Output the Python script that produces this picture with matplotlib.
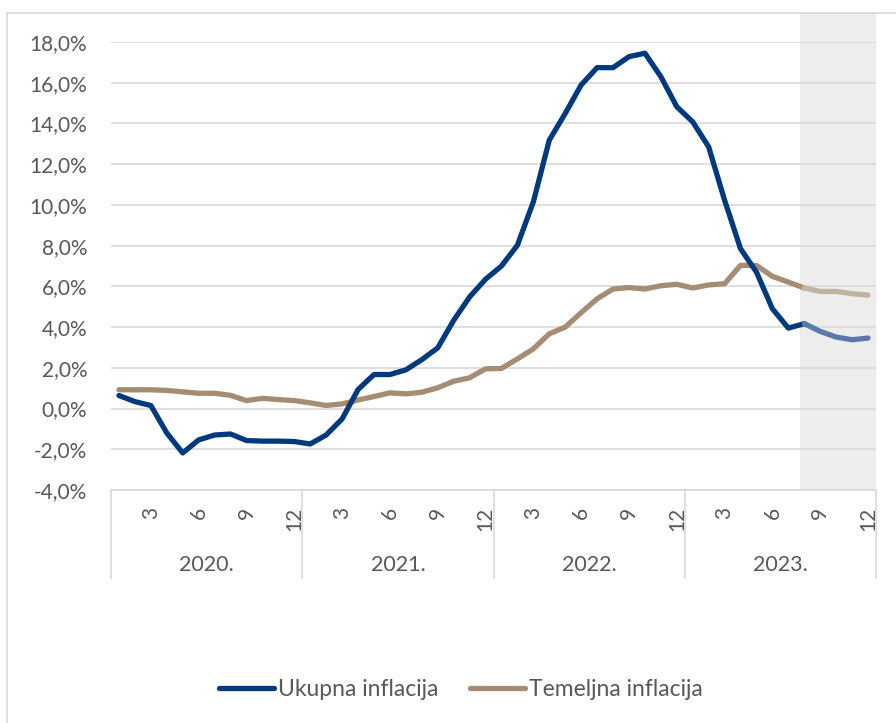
import matplotlib.pyplot as plt
from matplotlib.lines import Line2D
import matplotlib.transforms as mtransforms

# === Data (monthly, Jan 2020 - Dec 2023) ===
years = ["2020.", "2021.", "2022.", "2023."]
month_ticks = ["3", "6", "9", "12"]

ukupna = [0.64, 0.34, 0.15, -1.20, -2.18, -1.54, -1.30, -1.25, -1.57, -1.60, -1.60, -1.62,
          -1.74, -1.30, -0.51, 0.93, 1.67, 1.67, 1.90, 2.40, 2.98, 4.33, 5.48, 6.35,
          7.00, 8.02, 10.15, 13.18, 14.49, 15.89, 16.74, 16.74, 17.28, 17.45, 16.30, 14.82,
          14.08, 12.85, 10.23, 7.85, 6.70, 4.90, 3.95, 4.17, 3.79, 3.51, 3.38, 3.46]

temeljna = [0.92, 0.92, 0.92, 0.89, 0.82, 0.75, 0.75, 0.65, 0.39, 0.50, 0.44, 0.39,
            0.28, 0.15, 0.23, 0.42, 0.59, 0.77, 0.72, 0.80, 1.02, 1.34, 1.51, 1.95,
            1.97, 2.44, 2.93, 3.67, 4.00, 4.71, 5.39, 5.87, 5.94, 5.87, 6.03, 6.10,
            5.92, 6.07, 6.13, 7.03, 7.03, 6.49, 6.21, 5.92, 5.75, 5.75, 5.64, 5.57]

forecast_start = 43  # Aug 2023 onwards is projection

# === Style ===
plt.rcParams['font.family'] = ['Lato', 'DejaVu Sans']
txt = '#595959'
grid = '#d9d9d9'
c_uk, c_uk_f = '#003a7d', '#5b79a8'
c_tm, c_tm_f = '#a68c72', '#c0b3a4'

fig = plt.figure(figsize=(8.96, 7.23), dpi=100)
W, H = 896, 723
ax = fig.add_axes([111 / W, 1 - 490 / H, 765 / W, 448 / H])

x = list(range(len(ukupna)))
n = forecast_start + 1
ax.plot(x[:n], ukupna[:n], color=c_uk, lw=3.8, solid_capstyle='round', zorder=3)
ax.plot(x[forecast_start:], ukupna[forecast_start:], color=c_uk_f, lw=3.8,
        solid_capstyle='round', zorder=3)
ax.plot(x[:n], temeljna[:n], color=c_tm, lw=3.8, solid_capstyle='round', zorder=2)
ax.plot(x[forecast_start:], temeljna[forecast_start:], color=c_tm_f, lw=3.8,
        solid_capstyle='round', zorder=2)

# projection shading
span = ax.axvspan(forecast_start - 0.3, len(x) - 0.5, ymin=0, ymax=(490 - 13) / 448,
                  color='#ededed', zorder=0, lw=0)
span.set_clip_on(False)

ax.set_xlim(-0.5, len(x) - 0.5)
ax.set_ylim(-4, 18)
yt = list(range(-4, 19, 2))
ax.set_yticks(yt)
ax.set_yticklabels([f"{v:.1f}%".replace('.', ',') for v in yt], color=txt, fontsize=15)
ax.yaxis.grid(True, color=grid, lw=1.2, zorder=1)
ax.set_axisbelow(True)
ax.tick_params(axis='y', length=0, pad=17)

ticks_x, labels_x = [], []
for yi in range(len(years)):
    for k, m in enumerate(month_ticks):
        ticks_x.append(yi * 12 + 3 * k + 2)
        labels_x.append(m)
ax.set_xticks(ticks_x)
ax.set_xticklabels(labels_x, rotation=90, color=txt, fontsize=15)
ax.tick_params(axis='x', length=0, pad=12)

for s in ['top', 'right', 'left']:
    ax.spines[s].set_visible(False)
ax.spines['bottom'].set_color(grid)
ax.spines['bottom'].set_linewidth(1.2)

# year group labels and separators
trans = mtransforms.blended_transform_factory(ax.transData, ax.transAxes)
for yi, yl in enumerate(years):
    ax.text(yi * 12 + 5.5, -(565 - 490) / 448, yl, transform=trans, ha='center',
            va='center', color=txt, fontsize=15.5)
for b in range(len(years) + 1):
    ax.add_line(Line2D([b * 12 - 0.5] * 2, [0, -(578 - 490) / 448], transform=trans,
                       color=grid, lw=1.2, clip_on=False))

# chart frame
fig.add_artist(Line2D([7 / W, 1], [1 - 13 / H] * 2, color=grid, lw=1.2))
fig.add_artist(Line2D([7 / W] * 2, [0, 1 - 13 / H], color=grid, lw=1.2))

handles = [Line2D([], [], color=c_uk, lw=3.8, solid_capstyle='round'),
           Line2D([], [], color=c_tm, lw=3.8, solid_capstyle='round')]
leg = fig.legend(handles, ["Ukupna inflacija", "Temeljna inflacija"], loc='center',
                 bbox_to_anchor=(461 / W, 1 - 690 / H), ncol=2, frameon=False, fontsize=16.5,
                 handlelength=2.4, handletextpad=0.15, columnspacing=1.4)
for t in leg.get_texts():
    t.set_color(txt)

fig.savefig('out.png', dpi=100)
